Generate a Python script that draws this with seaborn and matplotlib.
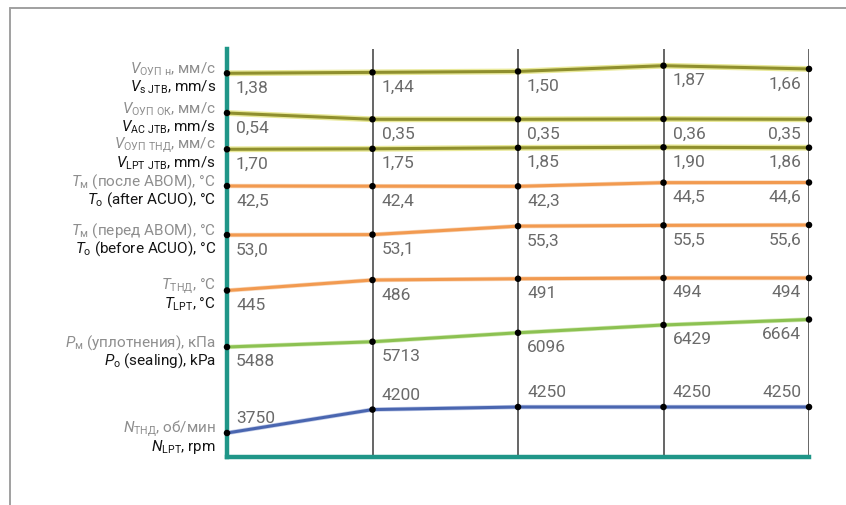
import matplotlib
matplotlib.use("Agg")
import matplotlib.pyplot as plt
import matplotlib.patheffects as pe
from matplotlib.lines import Line2D
import seaborn as sns

# Data: five measurement points, eight parameters
points = [0, 1, 2, 3, 4]

v_s_jtb = [1.38, 1.44, 1.50, 1.87, 1.66]
v_ac_jtb = [0.54, 0.35, 0.35, 0.36, 0.35]
v_lpt_jtb = [1.70, 1.75, 1.85, 1.90, 1.86]
t_after_acuo = [42.5, 42.4, 42.3, 44.5, 44.6]
t_before_acuo = [53.0, 53.1, 55.3, 55.5, 55.6]
t_lpt = [445, 486, 491, 494, 494]
p_sealing = [5488, 5713, 6096, 6429, 6664]
n_lpt = [3750, 4200, 4250, 4250, 4250]

labels_ru = [
    r"$V_{\mathrm{ОУП\ н}}$, мм/с",
    r"$V_{\mathrm{ОУП\ ОК}}$, мм/с",
    r"$V_{\mathrm{ОУП\ ТНД}}$, мм/с",
    r"$T_{\mathrm{м}}$ (после АВОМ), °C",
    r"$T_{\mathrm{м}}$ (перед АВОМ), °C",
    r"$T_{\mathrm{ТНД}}$, °C",
    r"$P_{\mathrm{м}}$ (уплотнения), кПа",
    r"$N_{\mathrm{ТНД}}$, об/мин",
]
labels_en = [
    r"$V_{\mathrm{s\ JTB}}$, mm/s",
    r"$V_{\mathrm{AC\ JTB}}$, mm/s",
    r"$V_{\mathrm{LPT\ JTB}}$, mm/s",
    r"$T_{\mathrm{о}}$ (after ACUO), °C",
    r"$T_{\mathrm{о}}$ (before ACUO), °C",
    r"$T_{\mathrm{LPT}}$, °C",
    r"$P_{\mathrm{о}}$ (sealing), kPa",
    r"$N_{\mathrm{LPT}}$, rpm",
]

series = [v_s_jtb, v_ac_jtb, v_lpt_jtb, t_after_acuo,
          t_before_acuo, t_lpt, p_sealing, n_lpt]
decimals = [2, 2, 2, 1, 1, 0, 0, 0]

# Layout: each row gets its own y scale (value, pixel row) pairs
W, H = 846, 506
AX_L, AX_R, AX_T, AX_B = 227, 809, 50, 458
row_anchors = [
    (1.38, 74.3, 1.87, 66.7),
    (0.54, 114.0, 0.35, 120.3),
    (1.70, 150.3, 1.90, 148.3),
    (42.5, 187.0, 44.6, 183.5),
    (53.0, 236.0, 55.6, 226.0),
    (445, 291.5, 494, 279.0),
    (5488, 348.0, 6664, 320.5),
    (3750, 434.0, 4250, 408.0),
]
olive = ("#8f8f2e", "#e9e99a", 4.2)
orange = ("#f29a50", "#f8d9bd", 3.2)
green = ("#8cc152", "#d6ebb8", 3.2)
blue = ("#4a66b0", "#c3cde9", 3.2)
row_colors = [olive, olive, olive, orange, orange, orange, green, blue]
label_above = [False] * 7 + [True]

sns.set_theme(style="white")
plt.rcParams["font.family"] = ["Roboto", "DejaVu Sans"]
plt.rcParams["mathtext.fontset"] = "custom"
plt.rcParams["mathtext.rm"] = "Roboto"
plt.rcParams["mathtext.it"] = "Roboto:italic"
plt.rcParams["mathtext.bf"] = "Roboto:bold"

fig = plt.figure(figsize=(W / 100, H / 100), dpi=100)
rect = [AX_L / W, (H - AX_B) / H, (AX_R - AX_L) / W, (AX_B - AX_T) / H]

# outer light frame (right and bottom cut off by the image edge)
fig.add_artist(Line2D([10 / W, 10 / W], [0, 1 - 9 / H], color="#a0a0a0", lw=1.4,
                      transform=fig.transFigure))
fig.add_artist(Line2D([10 / W, 1], [1 - 9 / H, 1 - 9 / H], color="#a0a0a0", lw=1.4,
                      transform=fig.transFigure))

ax = fig.add_axes(rect)
ax.set_xlim(points[0], points[-1])
ax.set_ylim(0, 1)
ax.set_xticks([])
ax.set_yticks([])
ax.set_facecolor("none")
for side in ["top", "right"]:
    ax.spines[side].set_visible(False)
for side in ["left", "bottom"]:
    ax.spines[side].set_color("#1f9688")
    ax.spines[side].set_linewidth(3.2)
for x in points[1:]:
    ax.axvline(x, color="#3c3c3c", lw=1.1, zorder=0)

for i, vals in enumerate(series):
    va, pa, vb, pb = row_anchors[i]
    slope = (vb - va) / (pb - pa)
    lo = va + slope * (AX_B - pa)
    hi = va + slope * (AX_T - pa)

    a = fig.add_axes(rect, sharex=ax)
    a.set_ylim(lo, hi)
    a.axis("off")

    col, halo, hw = row_colors[i]
    sns.lineplot(x=points, y=vals, ax=a, color=col, lw=2.2, clip_on=False,
                 path_effects=[pe.Stroke(linewidth=hw, foreground=halo), pe.Normal()])
    sns.scatterplot(x=points, y=vals, ax=a, color="black", s=22, edgecolor="none",
                    zorder=5, clip_on=False)

    for j, (x, v) in enumerate(zip(points, vals)):
        txt = f"{v:.{decimals[i]}f}".replace(".", ",")
        last = j == len(points) - 1
        dx = -8 if last else 9
        dy = 15 if label_above[i] else -14
        a.annotate(txt, (x, v), xytext=(dx, dy), textcoords="offset pixels",
                   ha="right" if last else "left", va="center",
                   fontsize=12.5, color="#6a6a6a", annotation_clip=False)

    a.annotate(labels_ru[i], (points[0], vals[0]), xytext=(-11, 5),
               textcoords="offset pixels", ha="right", va="center",
               fontsize=11, color="#8e8e8e", annotation_clip=False)
    a.annotate(labels_en[i], (points[0], vals[0]), xytext=(-11, -13),
               textcoords="offset pixels", ha="right", va="center",
               fontsize=11, color="#141414", annotation_clip=False)

fig.savefig("out.png", dpi=100)
